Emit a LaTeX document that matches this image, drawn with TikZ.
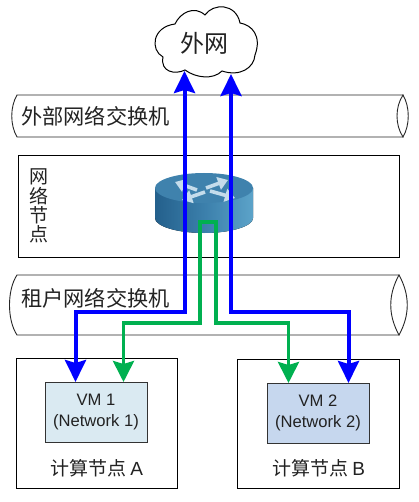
\documentclass[tikz,border=0pt]{standalone}
\usepackage{fontspec}
\setmainfont{Liberation Sans}
\newfontfamily\cjk{Noto Sans CJK SC}
\usetikzlibrary{arrows.meta}
\definecolor{vmone}{HTML}{DAEAF2}
\definecolor{vmtwo}{HTML}{C6D7EE}
\definecolor{linkgreen}{HTML}{00B050}
\definecolor{routerdark}{HTML}{24608C}
\definecolor{routermid}{HTML}{3B7FAB}
\definecolor{routerlight}{HTML}{5CA3C9}
\definecolor{routertop}{HTML}{3F82AD}
\definecolor{routerarrow}{HTML}{C4DCEB}
\definecolor{textgrey}{HTML}{222222}
\tikzset{
	hostbox/.style={draw=black,line width=0.9pt,inner sep=0pt},
	vmbox/.style={draw=black!80,line width=0.9pt,inner sep=0pt,align=center,text=textgrey,font=\fontsize{16.6}{21}\selectfont},
	pipe/.style={draw=black!85,line width=0.9pt},
	pipelabel/.style={anchor=west,inner sep=0pt,text=textgrey,font=\cjk\fontsize{21.2}{21}\selectfont},
	hostlabel/.style={inner sep=0pt,text=textgrey,font=\cjk\fontsize{19}{19}\selectfont},
	bluelink/.style={draw=blue,line width=4pt,{Stealth[length=22pt,width=21pt,inset=3pt]}-{Stealth[length=22pt,width=21pt,inset=3pt]}},
	greenlink/.style={draw=linkgreen,line width=3.6pt,{Stealth[length=21pt,width=21pt,inset=3pt]}-{Stealth[length=21pt,width=21pt,inset=3pt]}},
	routerflow/.style={draw=routerarrow,line width=3.6pt,-{Triangle[length=10pt,width=13pt]}}
}
\begin{document}
\begin{tikzpicture}[x=1pt,y=-1pt]
	\useasboundingbox (0,0) rectangle (419,502);
	% cloud
	\draw[line width=1pt,fill=white] (175,24)
		.. controls (180,13) and (194,5) .. (205,15)
		.. controls (213,3) and (236,3) .. (240,23)
		.. controls (252,25) and (262,36) .. (255,55)
		.. controls (254,68) and (240,77) .. (222,71)
		.. controls (213,80) and (196,78) .. (185,70)
		.. controls (175,75) and (160,72) .. (163,57)
		.. controls (150,50) and (152,27) .. (175,24) -- cycle;
	\node[inner sep=0pt,text=textgrey,font=\cjk\fontsize{24}{24}\selectfont] (cloudlabel) at (204,43) {外网};
	% pipes
	\draw[pipe] (403,95) -- (17,95) .. controls (10,107) and (10,125) .. (17,137) -- (403,137);
	\draw[pipe] (403,95) .. controls (395,107) and (395,125) .. (403,137) .. controls (410,125) and (410,107) .. (403,95) -- cycle;
	\node[pipelabel] (extswitch) at (21,116) {外部网络交换机};
	\draw[pipe] (399,275) -- (17,275) .. controls (7,290) and (7,320) .. (17,335) -- (399,335);
	\draw[pipe] (399,275) .. controls (388,295) and (388,315) .. (399,335) .. controls (410,315) and (410,295) .. (399,275) -- cycle;
	\node[pipelabel] (tenantswitch) at (21,298) {租户网络交换机};
	% boxes
	\node[hostbox,minimum width=381pt,minimum height=102pt] (netnode) at (208.5,206) {};
	\node[hostlabel,align=center,font=\cjk\fontsize{19}{19.3}\selectfont] (netlabel) at (38.5,206) {网\\络\\节\\点};
	\node[hostbox,minimum width=161pt,minimum height=130pt] (hosta) at (96.5,423) {};
	\node[hostbox,minimum width=162pt,minimum height=129pt] (hostb) at (318,423.5) {};
	\node[vmbox,fill=vmone,minimum width=102pt,minimum height=60pt] (vma) at (96,412) {VM 1\\(Network 1)};
	\node[vmbox,fill=vmtwo,minimum width=102pt,minimum height=60pt] (vmb) at (318,413) {VM 2\\(Network 2)};
	\node[hostlabel] (labela) at (96.5,468) {计算节点 {\fontspec{Liberation Sans}A}};
	\node[hostlabel] (labelb) at (318.5,468) {计算节点 {\fontspec{Liberation Sans}B}};
	% router
	\fill[left color=routerdark,right color=routerlight,middle color=routermid]
		(155,188) -- (155,218) arc[start angle=180,end angle=360,x radius=49,y radius=-15] -- (253,188) -- cycle;
	\fill[routertop] (204,188) ellipse[x radius=49,y radius=15];
	\foreach \xa/\ya/\xb/\yb in {197/190/175/182,206/188/228/180,205/192/182/200,210/191/235/198}
		\draw[routerflow] (\xa,\ya) -- (\xb,\yb);
	% links
	\coordinate (cloudl) at (184.5,71);
	\coordinate (cloudr) at (231,74);
	\coordinate (vmablue) at (75.5,382);
	\coordinate (vmagreen) at (123.5,382);
	\coordinate (vmbgreen) at (288.5,383);
	\coordinate (vmbblue) at (348.5,383);
	\draw[bluelink] (cloudl) -- (184.5,312) -| (vmablue);
	\draw[bluelink] (cloudr) -- (231,312) -| (vmbblue);
	\draw[greenlink] (vmagreen) |- (200,323) -- (200,222) -- (216,222) -- (216,323) -| (vmbgreen);
\end{tikzpicture}
\end{document}
